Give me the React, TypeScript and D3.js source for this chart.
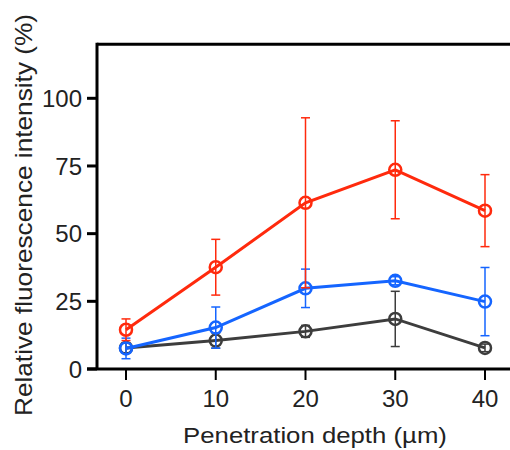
import React from "react";
import * as d3 from "d3";

const depths = [0, 10, 20, 30, 40];
const redMean = [14.5, 37.6, 61.4, 73.6, 58.5];
const redErr = [4, 10.3, 31.4, 18.1, 13.3];
const blueMean = [7.6, 15.3, 29.8, 32.6, 24.9];
const blueErr = [3.8, 7.6, 7.1, 1.5, 12.6];
const blackMean = [7.8, 10.5, 13.9, 18.5, 7.8];
const blackErr = [1.8, 2.8, 2.2, 10.2, 1.4];
const xTicks = [0, 10, 20, 30, 40];
const yTicks = [0, 25, 50, 75, 100];

const series = [
  { name: "black", color: "#3d3d3d", mean: blackMean, err: blackErr },
  { name: "blue", color: "#1565ff", mean: blueMean, err: blueErr },
  { name: "red", color: "#ff2a0d", mean: redMean, err: redErr },
];

export default function App() {
  const x = d3.scaleLinear().domain([0, 40]).range([126, 485]);
  const y = d3.scaleLinear().domain([0, 100]).range([369, 98.3]);
  const left = 97;
  const top = y(120);
  const bottom = y(0);
  const line = d3
    .line<number>()
    .x((_, i) => x(depths[i]))
    .y((d) => y(d));
  const font = "Liberation Sans, Arial, sans-serif";
  return (
    <svg
      width={510}
      height={450}
      style={{ position: "absolute", left: 0, top: 0, background: "#fff" }}
    >
      <line x1={left} x2={520} y1={top} y2={top} stroke="#000" strokeWidth={3} />
      <line x1={left} x2={left} y1={top - 1.5} y2={bottom} stroke="#000" strokeWidth={3} />
      <line x1={87} x2={520} y1={bottom} y2={bottom} stroke="#000" strokeWidth={3} />
      {yTicks.map((t) => (
        <g key={"y" + t}>
          <line x1={87} x2={left} y1={y(t)} y2={y(t)} stroke="#000" strokeWidth={3} />
          <text
            x={82}
            y={y(t)}
            dy="0.36em"
            textAnchor="end"
            fontFamily={font}
            fontSize={24}
            fill="#222"
          >
            {t}
          </text>
        </g>
      ))}
      {xTicks.map((t) => (
        <g key={"x" + t}>
          <line x1={x(t)} x2={x(t)} y1={bottom} y2={bottom + 11} stroke="#000" strokeWidth={2} />
          <text
            x={x(t)}
            y={407}
            textAnchor="middle"
            fontFamily={font}
            fontSize={24}
            fill="#222"
          >
            {t}
          </text>
        </g>
      ))}
      <text
        transform="translate(315,443) scale(1.12,1)"
        textAnchor="middle"
        fontFamily={font}
        fontSize={23}
        fill="#222"
      >
        Penetration depth (µm)
      </text>
      <text
        transform="translate(32,215) rotate(-90) scale(1.14,1)"
        textAnchor="middle"
        fontFamily={font}
        fontSize={23}
        fill="#222"
      >
        Relative fluorescence intensity (%)
      </text>
      {series.map((s) => (
        <g key={s.name}>
          <path d={line(s.mean) || ""} fill="none" stroke={s.color} strokeWidth={3} />
          {s.mean.map((m, i) => {
            const cx = x(depths[i]);
            const y1 = y(m + s.err[i]);
            const y2 = y(m - s.err[i]);
            return (
              <g key={i}>
                <circle cx={cx} cy={y(m)} r={6} fill="none" stroke={s.color} strokeWidth={2.5} />
                <line x1={cx} x2={cx} y1={y1} y2={y2} stroke={s.color} strokeWidth={1.5} />
                <line x1={cx - 4.5} x2={cx + 4.5} y1={y1} y2={y1} stroke={s.color} strokeWidth={1.5} />
                <line x1={cx - 4.5} x2={cx + 4.5} y1={y2} y2={y2} stroke={s.color} strokeWidth={1.5} />
              </g>
            );
          })}
        </g>
      ))}
    </svg>
  );
}
